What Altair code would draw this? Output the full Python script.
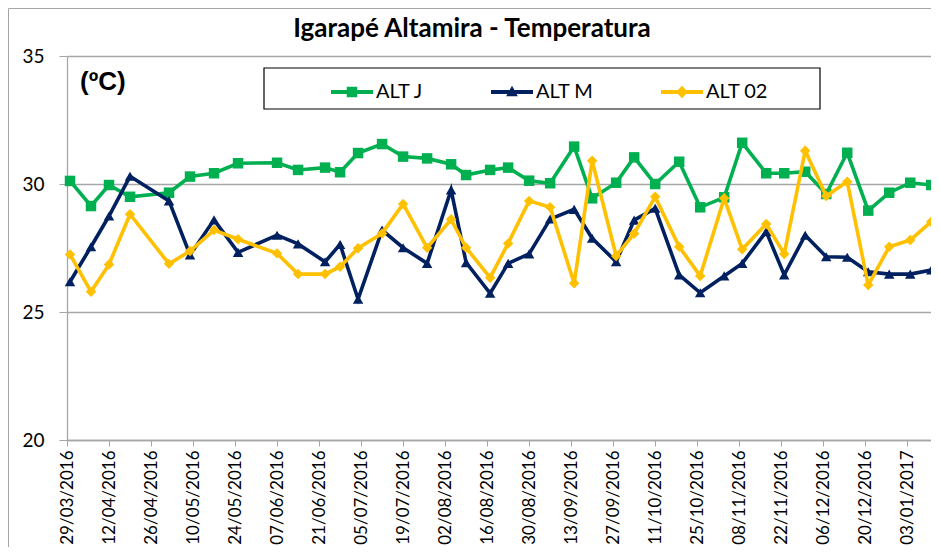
import altair as alt
import pandas as pd

# ---- data ----
dates = [
    "2016-03-30", "2016-04-06", "2016-04-12", "2016-04-19", "2016-05-02",
    "2016-05-09", "2016-05-17", "2016-05-25", "2016-06-07", "2016-06-14",
    "2016-06-23", "2016-06-28", "2016-07-04", "2016-07-12", "2016-07-19",
    "2016-07-27", "2016-08-04", "2016-08-09", "2016-08-17", "2016-08-23",
    "2016-08-30", "2016-09-06", "2016-09-14", "2016-09-20", "2016-09-28",
    "2016-10-04", "2016-10-11", "2016-10-19", "2016-10-26", "2016-11-03",
    "2016-11-09", "2016-11-17", "2016-11-23", "2016-11-30", "2016-12-07",
    "2016-12-14", "2016-12-21", "2016-12-28", "2017-01-04", "2017-01-11",
]
alt_j = [30.12, 29.14, 29.96, 29.50, 29.66, 30.29, 30.42, 30.81, 30.83, 30.55,
         30.64, 30.46, 31.21, 31.56, 31.07, 31.00, 30.77, 30.35, 30.55, 30.64,
         30.13, 30.03, 31.46, 29.44, 30.05, 31.04, 30.00, 30.87, 29.09, 29.48,
         31.61, 30.42, 30.42, 30.48, 29.61, 31.22, 28.96, 29.66, 30.05, 29.96]
alt_m = [26.18, 27.55, 28.75, 30.30, 29.34, 27.23, 28.60, 27.33, 28.00, 27.66,
         26.96, 27.64, 25.50, 28.20, 27.51, 26.90, 29.77, 26.93, 25.73, 26.90,
         27.27, 28.63, 29.01, 27.88, 26.96, 28.59, 29.05, 26.45, 25.75, 26.41,
         26.90, 28.14, 26.45, 28.00, 27.16, 27.14, 26.57, 26.48, 26.48, 26.64]
alt_02 = [27.25, 25.79, 26.86, 28.82, 26.88, 27.38, 28.20, 27.84, 27.29, 26.48,
          26.48, 26.77, 27.49, 28.07, 29.22, 27.51, 28.62, 27.51, 26.34, 27.68,
          29.34, 29.09, 26.12, 30.91, 27.19, 28.07, 29.50, 27.55, 26.41, 29.44,
          27.45, 28.44, 27.27, 31.30, 29.53, 30.09, 26.05, 27.55, 27.81, 28.53]
series_names = ["ALT J", "ALT M", "ALT 02"]
series_colors = ["#00B050", "#002060", "#FFC000"]
series_shapes = ["square", "triangle-up", "diamond"]
tick_dates = [
    (2016, 3, 29), (2016, 4, 12), (2016, 4, 26), (2016, 5, 10), (2016, 5, 24),
    (2016, 6, 7), (2016, 6, 21), (2016, 7, 5), (2016, 7, 19), (2016, 8, 2),
    (2016, 8, 16), (2016, 8, 30), (2016, 9, 13), (2016, 9, 27), (2016, 10, 11),
    (2016, 10, 25), (2016, 11, 8), (2016, 11, 22), (2016, 12, 6), (2016, 12, 20),
    (2017, 1, 3),
]
y_ticks = [20, 25, 30, 35]
title_text = "Igarapé Altamira - Temperatura"
unit_label = "(ºC)"

# legend symbols: a line segment with the series marker in the middle
legend_paths = [
    "M-1,-0.1H1V0.1H-1Z M-0.25,-0.25H0.25V0.25H-0.25Z",
    "M-1,-0.1H1V0.1H-1Z M0,-0.3L0.28,0.2L-0.28,0.2Z",
    "M-1,-0.1H1V0.1H-1Z M0,-0.3L0.28,0L0,0.3L-0.28,0Z",
]

rows = []
for name, vals in zip(series_names, [alt_j, alt_m, alt_02]):
    for d, v in zip(dates, vals):
        rows.append({"date": d + "T00:00:00", "temp": v, "series": name})
df = pd.DataFrame(rows)

GRAY = "#A6A6A6"

x_enc = alt.X(
    "date:T",
    scale=alt.Scale(domain=[alt.DateTime(year=2016, month=3, date=29),
                            alt.DateTime(year=2017, month=1, date=11, hours=14)],
                    nice=False),
    axis=alt.Axis(
        values=[alt.DateTime(year=y, month=m, date=d) for (y, m, d) in tick_dates],
        format="%d/%m/%Y", labelAngle=-90, labelFont="Lato", labelFontSize=17,
        labelColor="black", labelPadding=4, tickSize=6, tickColor=GRAY,
        domainColor=GRAY, domainWidth=1.3, grid=False, title=None,
        labelOverlap=False,
    ),
)
y_enc = alt.Y(
    "temp:Q",
    scale=alt.Scale(domain=[20, 35], nice=False, zero=False),
    axis=alt.Axis(
        values=y_ticks, labelFont="Lato", labelFontSize=19, labelColor="black",
        labelPadding=15, tickSize=8, tickColor=GRAY, domainColor=GRAY,
        domainWidth=1.3, grid=True, gridColor=GRAY, gridWidth=1.3, title=None,
    ),
)

layers = []
for name, col, shp in zip(series_names, series_colors, series_shapes):
    base = alt.Chart(df).transform_filter(alt.datum.series == name)
    layers.append(base.mark_line(color=col, strokeWidth=3.6).encode(x=x_enc, y=y_enc))
    layers.append(base.mark_point(color=col, shape=shp, filled=True, opacity=1,
                                  size=110).encode(x=x_enc, y=y_enc))

legend_props = dict(title=None, orient="none", legendX=264, legendY=15,
                    direction="horizontal", labelFont="Lato", labelFontSize=20,
                    labelColor="black", symbolSize=1764, symbolStrokeWidth=0,
                    symbolOpacity=1, columnPadding=67, labelOffset=3, padding=0)
legend_layer = alt.Chart(df).transform_filter("false").mark_point(
    filled=True, opacity=1
).encode(
    x=x_enc, y=y_enc,
    color=alt.Color("series:N",
                    scale=alt.Scale(domain=series_names, range=series_colors),
                    legend=alt.Legend(**legend_props)),
    shape=alt.Shape("series:N",
                    scale=alt.Scale(domain=series_names, range=legend_paths),
                    legend=alt.Legend(**legend_props)),
)

one = pd.DataFrame({"k": [0]})
legend_box = alt.Chart(one).mark_rect(fill="white", fillOpacity=0, stroke="black",
                                      strokeWidth=1.2).encode(
    x=alt.value(197), x2=alt.value(753), y=alt.value(12), y2=alt.value(53))
unit_text = alt.Chart(one).mark_text(
    text=unit_label, font="Liberation Sans", fontWeight="bold", fontSize=26,
    align="left", baseline="middle", color="black",
).encode(x=alt.value(13), y=alt.value(26))
title_mark = alt.Chart(one).mark_text(
    text=title_text, font="Lato", fontWeight="bold", fontSize=26,
    align="center", baseline="alphabetic", color="black",
).encode(x=alt.value(405), y=alt.value(-19))
border_top = alt.Chart(one).mark_rule(color=GRAY, strokeWidth=1).encode(
    x=alt.value(-58.5), x2=alt.value(880), y=alt.value(-47.5))
border_left = alt.Chart(one).mark_rule(color=GRAY, strokeWidth=1).encode(
    x=alt.value(-58.5), y=alt.value(-47.5), y2=alt.value(500))

chart = alt.layer(
    border_top, border_left, legend_box, unit_text, title_mark, *layers, legend_layer
).properties(
    width=866, height=384,
    autosize=alt.AutoSizeParams(type="none"),
    padding={"left": 59, "top": 48, "right": -2, "bottom": 107},
).configure_view(stroke=None).configure(background="white")

chart.save("out.html", embed_options={"renderer": "svg", "actions": False})
